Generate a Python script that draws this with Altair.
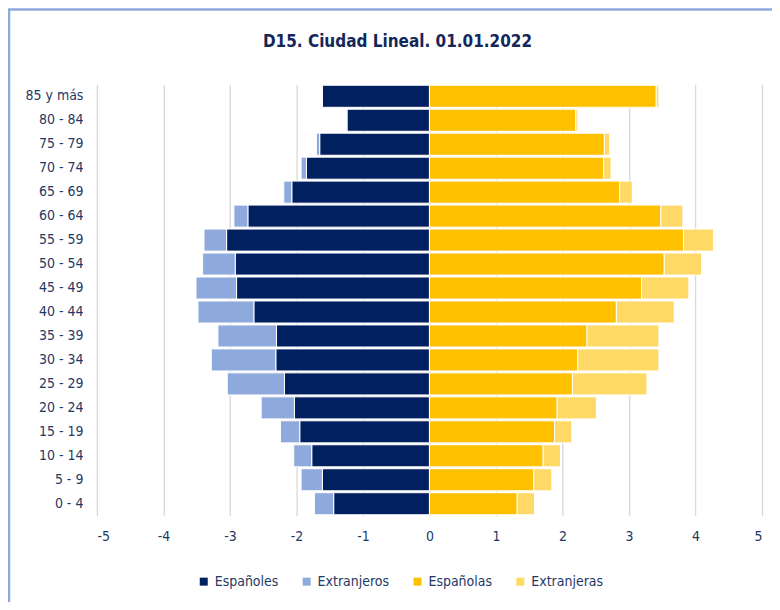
import altair as alt
import pandas as pd

ages = ["85 y más", "80 - 84", "75 - 79", "70 - 74", "65 - 69", "60 - 64", "55 - 59",
        "50 - 54", "45 - 49", "40 - 44", "35 - 39", "30 - 34", "25 - 29", "20 - 24",
        "15 - 19", "10 - 14", "5 - 9", "0 - 4"]
espanoles = [1.61, 1.24, 1.65, 1.85, 2.07, 2.73, 3.05, 2.92, 2.90, 2.64, 2.30, 2.31, 2.18, 2.03, 1.95, 1.77, 1.61, 1.44]
extranjeros = [0.01, 0.01, 0.05, 0.08, 0.12, 0.21, 0.34, 0.49, 0.61, 0.84, 0.88, 0.97, 0.86, 0.50, 0.29, 0.27, 0.32, 0.29]
espanolas = [3.41, 2.20, 2.63, 2.62, 2.86, 3.48, 3.82, 3.53, 3.19, 2.81, 2.37, 2.23, 2.15, 1.92, 1.88, 1.71, 1.57, 1.32]
extranjeras = [0.04, 0.03, 0.08, 0.11, 0.19, 0.33, 0.45, 0.56, 0.71, 0.87, 1.08, 1.22, 1.12, 0.59, 0.26, 0.26, 0.27, 0.26]

series = ["Españoles", "Extranjeros", "Españolas", "Extranjeras"]
colors = ["#002060", "#8EA9DB", "#FFC000", "#FFD966"]
title_text = "D15. Ciudad Lineal. 01.01.2022"

rows = []
for i, a in enumerate(ages):
    rows.append({"edad": a, "serie": "Españoles", "valor": -espanoles[i], "orden": 0})
    rows.append({"edad": a, "serie": "Extranjeros", "valor": -extranjeros[i], "orden": 1})
    rows.append({"edad": a, "serie": "Españolas", "valor": espanolas[i], "orden": 0})
    rows.append({"edad": a, "serie": "Extranjeras", "valor": extranjeras[i], "orden": 1})
df = pd.DataFrame(rows)

FONT = "Liberation Sans Narrow, DejaVu Sans Condensed, Roboto, sans-serif"
NAVY = "#1F3864"
W, H = 666, 432

bars = alt.Chart(df).mark_bar(stroke="white", strokeWidth=1).encode(
    y=alt.Y("edad:N", sort=ages, title=None,
            scale=alt.Scale(paddingInner=0.08, paddingOuter=0.04),
            axis=alt.Axis(domain=False, ticks=False, labelPadding=14, labelFontSize=14,
                          labelColor=NAVY, labelFont=FONT, grid=False)),
    x=alt.X("valor:Q", stack="zero", title=None,
            scale=alt.Scale(domain=[-5, 5], nice=False),
            axis=alt.Axis(values=list(range(-5, 6)), domain=False, ticks=False,
                          labelExpr="'' + datum.value",
                          labelPadding=14, labelFontSize=14, labelColor=NAVY, labelFont=FONT,
                          grid=True, gridColor="#D9D9D9", gridWidth=1.3)),
    color=alt.Color("serie:N", scale=alt.Scale(domain=series, range=colors),
                    legend=alt.Legend(title=None, orient="none", legendX=100, legendY=491,
                                      direction="horizontal", symbolType="square",
                                      symbolSize=64, symbolStrokeWidth=0,
                                      labelFontSize=14, labelColor=NAVY, labelFont=FONT,
                                      columnPadding=21, labelOffset=4)),
    order=alt.Order("orden:Q", sort="ascending"),
)

frame = alt.Chart(pd.DataFrame({"k": [0]})).mark_rect(
    fillOpacity=0, stroke="#8EA9DB", strokeWidth=2.5
).encode(
    x=alt.value(-88), x2=alt.value(W + 40),
    y=alt.value(-75), y2=alt.value(H + 140),
)

title = alt.Chart(pd.DataFrame({"t": [title_text]})).mark_text(
    font=FONT, fontSize=17, fontWeight="bold", color="#13275A", baseline="middle", align="center"
).encode(
    text="t:N", x=alt.value(W / 2 - 32), y=alt.value(-42),
)

chart = alt.layer(frame, bars, title).properties(
    width=W, height=H,
    autosize=alt.AutoSizeParams(type="none"),
    padding={"left": 89, "top": 76, "right": 10, "bottom": 86},
).configure_view(stroke=None)

chart.save("out.html", embed_options={"renderer": "svg", "actions": False})
